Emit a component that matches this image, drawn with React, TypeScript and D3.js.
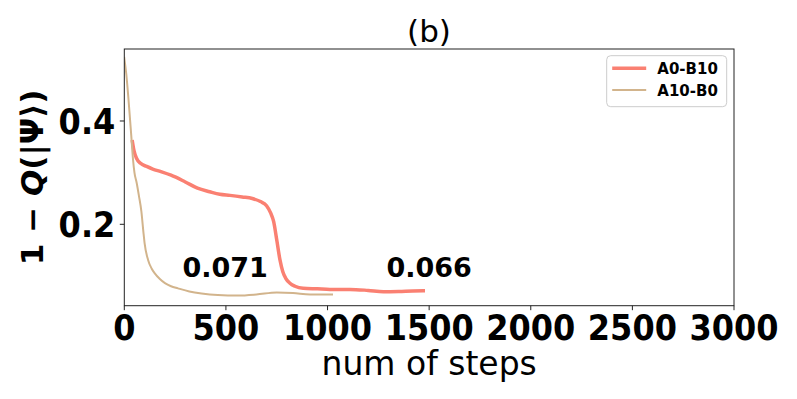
import { useMemo } from "react";
import * as d3 from "d3";

const WIDTH = 797;
const HEIGHT = 399;
const MARGIN = { left: 124.3, right: 797 - 734, top: 49, bottom: 399 - 305.7 };

// A0-B10 run (salmon)
const stepsA0B10 = [40, 48, 60, 80, 110, 140, 180, 230, 300, 360, 420, 470, 520, 580, 630, 670, 700, 720, 735, 750, 766, 780, 795, 815, 840, 880, 950, 1012, 1110, 1200, 1275, 1350, 1420, 1471];
const lossA0B10 = [0.36, 0.342, 0.328, 0.318, 0.312, 0.307, 0.302, 0.295, 0.282, 0.27, 0.263, 0.258, 0.256, 0.253, 0.25, 0.244, 0.236, 0.222, 0.205, 0.17, 0.131, 0.108, 0.095, 0.086, 0.08, 0.076, 0.075, 0.074, 0.074, 0.072, 0.0695, 0.07, 0.071, 0.0714];

// A10-B0 run (tan)
const stepsA10B0 = [0, 10, 20, 34, 43, 50, 61, 72, 84, 94, 100, 117, 135, 150, 175, 200, 230, 264, 320, 380, 460, 560, 650, 750, 830, 914, 970, 1022];
const lossA10B0 = [0.522, 0.49, 0.445, 0.373, 0.325, 0.3, 0.28, 0.255, 0.225, 0.185, 0.163, 0.131, 0.114, 0.105, 0.094, 0.086, 0.08, 0.076, 0.07, 0.066, 0.063, 0.062, 0.064, 0.068, 0.067, 0.064, 0.064, 0.064];

const xTicks = [0, 500, 1000, 1500, 2000, 2500, 3000];
const yTicks = [0.2, 0.4];
const legendLabels = ["A0-B10", "A10-B0"];
const colors = ["#FA8072", "#D2B48C"];
const annotations = [
  { text: "0.071", step: 496, value: 0.098 },
  { text: "0.066", step: 1500, value: 0.098 },
];

const FONT = "DejaVu Sans";

export default function App() {
  const innerW = WIDTH - MARGIN.left - MARGIN.right;
  const innerH = HEIGHT - MARGIN.top - MARGIN.bottom;

  const x = d3.scaleLinear().domain([0, 3000]).range([0, innerW]);
  const y = d3.scaleLinear().domain([0.0424, 0.5394]).range([innerH, 0]);

  const series = useMemo(
    () => [
      { label: legendLabels[0], pts: stepsA0B10.map((s, i) => [s, lossA0B10[i]] as [number, number]), color: colors[0], w: 3.5 },
      { label: legendLabels[1], pts: stepsA10B0.map((s, i) => [s, lossA10B0[i]] as [number, number]), color: colors[1], w: 2 },
    ],
    []
  );

  const line = d3
    .line<[number, number]>()
    .x((d) => x(d[0]))
    .y((d) => y(d[1]))
    .curve(d3.curveMonotoneX);

  return (
    <svg width={WIDTH} height={HEIGHT} style={{ position: "absolute", left: 0, top: 0, background: "#fff" }} fontFamily={FONT}>
      <rect width={WIDTH} height={HEIGHT} fill="#fff" />
      <text x={429} y={42} textAnchor="middle" fontSize={31}>
        (b)
      </text>
      <g transform={`translate(${MARGIN.left}, ${MARGIN.top})`}>
        <defs>
          <clipPath id="plot">
            <rect width={innerW} height={innerH} />
          </clipPath>
        </defs>
        <g clipPath="url(#plot)">
          {series.map((s) => (
            <path key={s.label} d={line(s.pts) || ""} fill="none" stroke={s.color} strokeWidth={s.w} strokeLinecap="square" strokeLinejoin="round" />
          ))}
        </g>
        {annotations.map((a) => (
          <text key={a.text} x={x(a.step)} y={y(a.value)} fontSize={27} fontWeight="bold" textAnchor="middle">
            {a.text}
          </text>
        ))}
        <rect width={innerW} height={innerH} fill="none" stroke="#222" strokeWidth={1} />
        {xTicks.map((t) => (
          <g key={t} transform={`translate(${x(t)}, ${innerH})`}>
            <line y2={4.5} stroke="#222" />
            <text transform="translate(0, 34) scale(1, 1.1)" textAnchor="middle" fontSize={32} fontWeight="bold">
              {t}
            </text>
          </g>
        ))}
        {yTicks.map((t) => (
          <g key={t} transform={`translate(0, ${y(t)})`}>
            <line x2={-4.5} stroke="#222" />
            <text transform="translate(-9, 13) scale(1, 1.1)" textAnchor="end" fontSize={32} fontWeight="bold">
              {t.toFixed(1)}
            </text>
          </g>
        ))}
        <text x={innerW / 2} y={innerH + 69} textAnchor="middle" fontSize={33}>
          num of steps
        </text>
        <text transform={`translate(-81, ${innerH / 2}) rotate(-90)`} textAnchor="middle" fontSize={31} fontWeight="bold">
          1 − <tspan fontStyle="italic">Q</tspan>(|Ψ⟩)
        </text>
        <g transform={`translate(${innerW - 127.3}, 6.7)`}>
          <rect width={120} height={51} rx={4} fill="#fff" fillOpacity={0.8} stroke="#ccc" />
          {series.map((s, i) => (
            <g key={s.label} transform={`translate(0, ${12.6 + i * 21.7})`}>
              <line x1={5.5} x2={39.5} stroke={s.color} strokeWidth={s.w} />
              <text x={50.6} y={6} fontSize={15} fontWeight="bold">
                {s.label}
              </text>
            </g>
          ))}
        </g>
      </g>
    </svg>
  );
}
